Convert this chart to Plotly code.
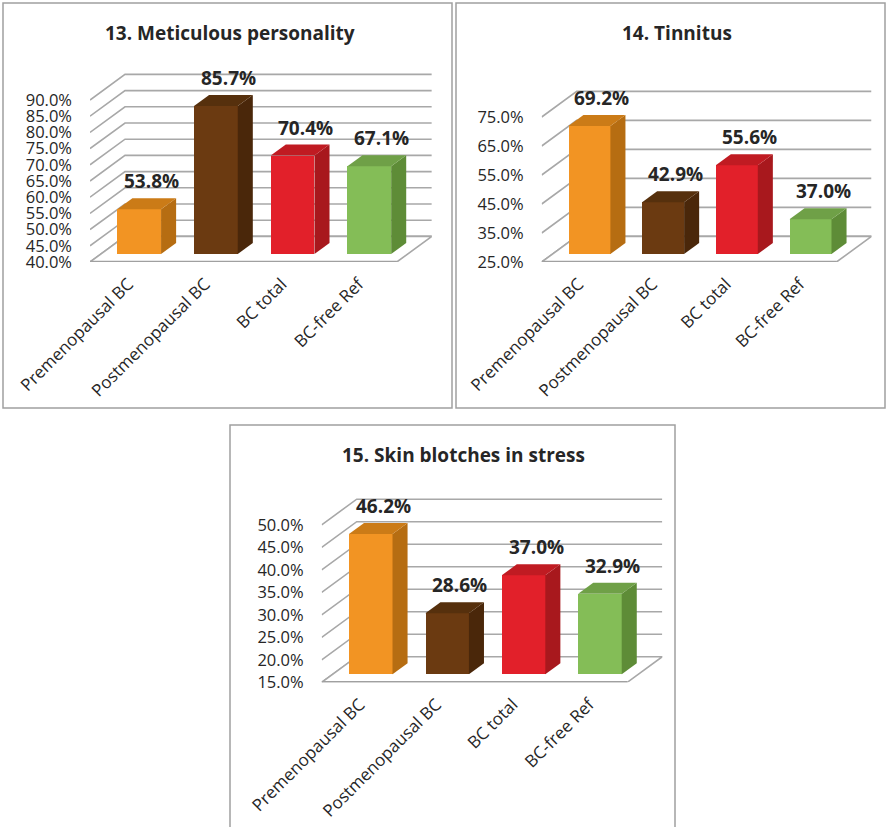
import plotly.graph_objects as go

# ---- data -------------------------------------------------------------
categories = ["Premenopausal BC", "Postmenopausal BC", "BC total", "BC-free Ref"]

meticulous = [53.8, 85.7, 70.4, 67.1]
tinnitus = [69.2, 42.9, 55.6, 37.0]
skin_blotches = [46.2, 28.6, 37.0, 32.9]

titles = ["13. Meticulous personality", "14. Tinnitus", "15. Skin blotches in stress"]

ticks_meticulous = [40, 45, 50, 55, 60, 65, 70, 75, 80, 85, 90]
ticks_tinnitus = [25, 35, 45, 55, 65, 75]
ticks_skin = [15, 20, 25, 30, 35, 40, 45, 50]

# ---- styling ----------------------------------------------------------
W, H = 886, 827
FONT = "Open Sans"
TEXT = "#262626"
GRID = "#A8A8A8"
BORDER = "#A0A0A0"

FRONT = ["#F29423", "#6B3A11", "#E2202A", "#84BD57"]
SIDE = ["#B66D12", "#4A270A", "#A8181D", "#5E8C37"]
TOP = ["#CB7B17", "#56300D", "#C01B22", "#6FA047"]

DEPTH_PX = (35.0, 25.6)   # horizontal / vertical offset of the back wall
F0, F1 = 0.31, 0.74       # bar front / back position inside the floor depth
BAR_W = 0.57              # bar width in category units

# pixel geometry of each panel: floor front-left corner, category spacing,
# pixels per percentage point, top of plot area, frame box
panels = [
    dict(values=meticulous, ticks=ticks_meticulous, title=titles[0],
         x0=90.0, y0=262.0, sp=76.7, ppu=3.24, top=55.0,
         frame=(3, 3, 452, 408), title_xy=(230, 33)),
    dict(values=tinnitus, ticks=ticks_tinnitus, title=titles[1],
         x0=541.7, y0=262.0, sp=73.7, ppu=2.9, top=60.0,
         frame=(456, 3, 885, 408), title_xy=(677, 33)),
    dict(values=skin_blotches, ticks=ticks_skin, title=titles[2],
         x0=321.7, y0=682.3, sp=76.4, ppu=4.5, top=478.0,
         frame=(230, 425, 675, 840), title_xy=(463, 455)),
]

fig = go.Figure()
shapes = []
annotations = []
layout_axes = {}

for i, p in enumerate(panels, start=1):
    xa = "x" if i == 1 else f"x{i}"
    ya = "y" if i == 1 else f"y{i}"
    sp, ppu = p["sp"], p["ppu"]
    DX = DEPTH_PX[0] / sp
    DY = DEPTH_PX[1] / ppu
    vmin = p["ticks"][0]
    xl, xr = -0.5, len(categories) - 0.5

    x_dom = [p["x0"] / W, (p["x0"] + (len(categories) + DX) * sp) / W]
    y_dom = [1 - p["y0"] / H, 1 - p["top"] / H]
    y_top = vmin + (p["y0"] - p["top"]) / ppu

    # back wall / side wall grid lines
    for v in p["ticks"]:
        shapes.append(dict(
            type="path", xref=xa, yref=ya, layer="below",
            path=f"M {xl},{v} L {xl + DX},{v + DY} L {xr + DX},{v + DY}",
            line=dict(color=GRID, width=1.6)))
    # floor
    shapes.append(dict(
        type="path", xref=xa, yref=ya, layer="below",
        path=(f"M {xl},{vmin} L {xr},{vmin} L {xr + DX},{vmin + DY} "
              f"L {xl + DX},{vmin + DY} Z"),
        fillcolor="white", line=dict(color=GRID, width=1.6)))
    shapes.append(dict(
        type="line", xref=xa, yref=ya, layer="below",
        x0=xl, y0=vmin, x1=xr, y1=vmin,
        line=dict(color="#A0A0A0", width=2.6)))

    # bar front faces
    xs = [c + F0 * DX for c in range(len(categories))]
    fig.add_trace(go.Bar(
        x=xs, y=[v - vmin for v in p["values"]], base=vmin + F0 * DY,
        width=BAR_W, marker=dict(color=FRONT, line=dict(width=0)),
        xaxis=xa, yaxis=ya, showlegend=False, hoverinfo="skip"))

    # side and top faces
    for c, v in enumerate(p["values"]):
        left = c - BAR_W / 2
        right = c + BAR_W / 2
        b0, b1 = vmin + F0 * DY, vmin + F1 * DY
        side_x = [right + F0 * DX, right + F1 * DX, right + F1 * DX, right + F0 * DX, right + F0 * DX]
        side_y = [b0, b1, v + F1 * DY, v + F0 * DY, b0]
        fig.add_trace(go.Scatter(
            x=side_x, y=side_y, mode="lines", fill="toself",
            fillcolor=SIDE[c], line=dict(width=0, color=SIDE[c]),
            xaxis=xa, yaxis=ya, showlegend=False, hoverinfo="skip"))
        top_x = [left + F0 * DX, right + F0 * DX, right + F1 * DX, left + F1 * DX, left + F0 * DX]
        top_y = [v + F0 * DY, v + F0 * DY, v + F1 * DY, v + F1 * DY, v + F0 * DY]
        fig.add_trace(go.Scatter(
            x=top_x, y=top_y, mode="lines", fill="toself",
            fillcolor=TOP[c], line=dict(width=0, color=TOP[c]),
            xaxis=xa, yaxis=ya, showlegend=False, hoverinfo="skip"))

        # value label above the bar
        annotations.append(dict(
            xref=xa, yref=ya, x=c + (F0 + F1) / 2 * DX, y=v + F1 * DY,
            text=f"{v:.1f}%", showarrow=False, xanchor="center", yanchor="middle",
            xshift=5, yshift=17,
            font=dict(family=FONT, size=19, color=TEXT, weight="bold")))

    # panel frame and title
    fx0, fy0, fx1, fy1 = p["frame"]
    shapes.append(dict(
        type="rect", xref="paper", yref="paper",
        x0=fx0 / W, x1=fx1 / W, y0=1 - fy1 / H, y1=1 - fy0 / H,
        line=dict(color=BORDER, width=1.5), fillcolor="rgba(0,0,0,0)", layer="below"))
    annotations.append(dict(
        xref="paper", yref="paper", x=p["title_xy"][0] / W, y=1 - p["title_xy"][1] / H,
        text=p["title"], showarrow=False, xanchor="center", yanchor="middle",
        font=dict(family=FONT, size=19, color=TEXT, weight="bold")))

    layout_axes[f"xaxis{'' if i == 1 else i}"] = dict(
        domain=x_dom, range=[xl, xr + DX], anchor=ya, automargin=False,
        tickmode="array", tickvals=list(range(len(categories))), ticktext=categories,
        tickangle=-45, showgrid=False, zeroline=False, showline=False, ticks="",
        ticklabelstandoff=8,
        tickfont=dict(family=FONT, size=17, color=TEXT), fixedrange=True)
    layout_axes[f"yaxis{'' if i == 1 else i}"] = dict(
        domain=y_dom, range=[vmin, y_top], anchor=xa, automargin=False,
        tickmode="array", tickvals=p["ticks"], ticktext=[f"{t:.1f}%" for t in p["ticks"]],
        showgrid=False, zeroline=False, showline=False, ticks="",
        ticklabelstandoff=17,
        tickfont=dict(family=FONT, size=16.5, color=TEXT), fixedrange=True)

fig.update_layout(
    width=W, height=H,
    margin=dict(l=0, r=0, t=0, b=0),
    paper_bgcolor="white", plot_bgcolor="rgba(0,0,0,0)",
    shapes=shapes, annotations=annotations,
    showlegend=False, bargap=0,
    **layout_axes)

fig.write_html("out.html")
